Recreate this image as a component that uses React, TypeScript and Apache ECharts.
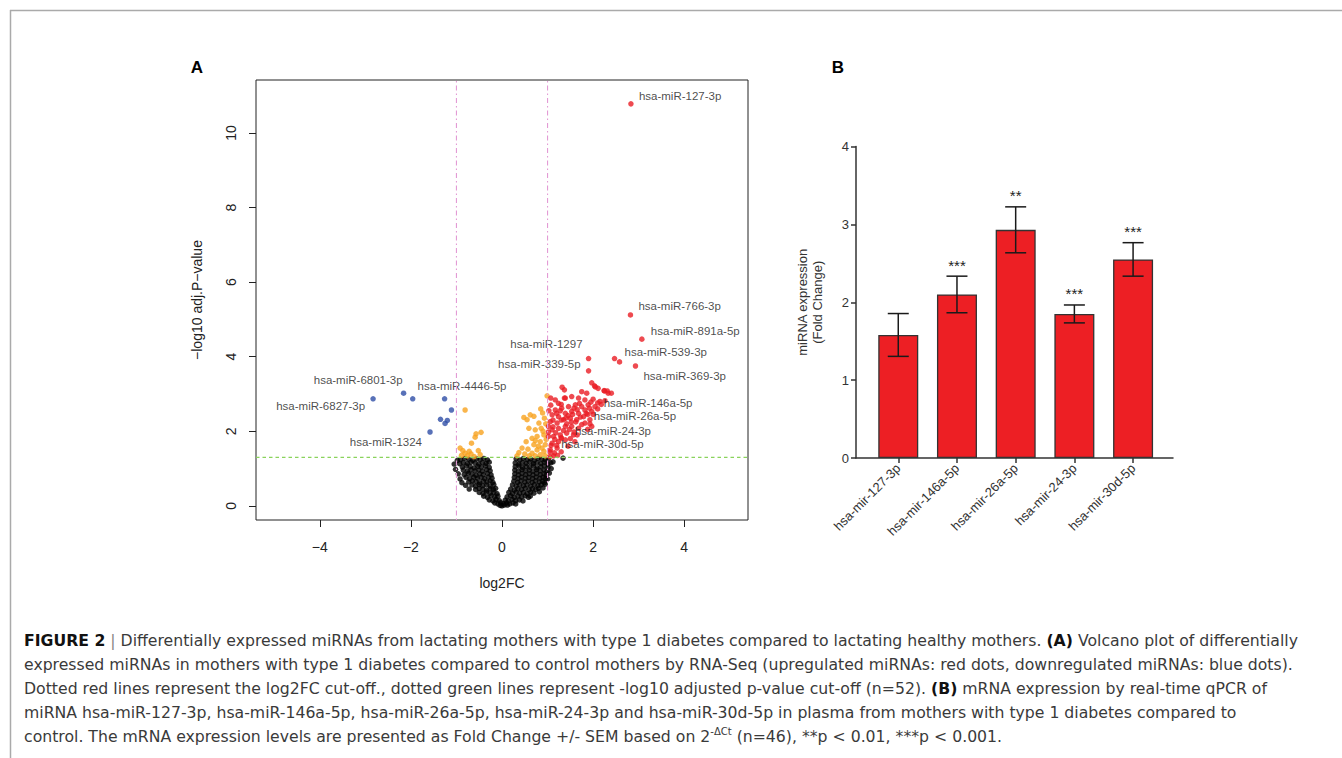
import React, { useEffect, useRef } from "react";
import * as echarts from "echarts";

// ---------------- Panel A: volcano plot data ----------------
const volcanoXTicks = [-4, -2, 0, 2, 4];
const volcanoYTicks = [0, 2, 4, 6, 8, 10];
const volcanoXRange = [-5.4, 5.4];
const volcanoYRange = [-0.38, 11.42];
const log2fcCutoffs = [-1, 1];
const pvalCutoff = 1.3;

const blackPoints: [number, number][] = [
  [-0.91, 1.24], [-0.82, 1.27], [-0.73, 1.25], [-0.64, 1.22], [-0.56, 1.26], [-0.48, 1.24], [-0.40, 1.27], [-0.32, 1.23],
  [0.31, 1.26], [0.39, 1.23], [0.47, 1.27], [0.55, 1.24], [0.63, 1.26], [0.71, 1.22], [0.79, 1.27], [0.87, 1.25], [0.95, 1.23], [1.02, 1.26],
  [-0.93, 1.13], [-0.85, 1.16], [-0.76, 1.14], [-0.68, 1.17], [-0.59, 1.15], [-0.51, 1.12], [-0.43, 1.16], [-0.35, 1.14], [-0.28, 1.17],
  [0.29, 1.15], [0.37, 1.12], [0.45, 1.16], [0.53, 1.14], [0.61, 1.17], [0.69, 1.13], [0.77, 1.16], [0.85, 1.14], [0.93, 1.17], [1.01, 1.12], [1.07, 1.15],
  [-0.87, 1.04], [-0.78, 1.07], [-0.70, 1.05], [-0.61, 1.02], [-0.53, 1.06], [-0.45, 1.04], [-0.36, 1.07], [-0.28, 1.03],
  [0.29, 1.05], [0.37, 1.07], [0.45, 1.03], [0.53, 1.06], [0.61, 1.04], [0.69, 1.07], [0.77, 1.02], [0.85, 1.05], [0.93, 1.07], [1.01, 1.03],
  [-0.85, 0.96], [-0.76, 0.93], [-0.68, 0.97], [-0.59, 0.94], [-0.51, 0.96], [-0.43, 0.93], [-0.34, 0.97], [-0.26, 0.94],
  [0.28, 0.96], [0.36, 0.93], [0.44, 0.97], [0.52, 0.94], [0.60, 0.96], [0.68, 0.93], [0.76, 0.97], [0.84, 0.94], [0.92, 0.96], [0.99, 0.93],
  [-0.83, 0.84], [-0.74, 0.87], [-0.66, 0.85], [-0.57, 0.82], [-0.49, 0.86], [-0.41, 0.84], [-0.32, 0.87], [-0.24, 0.83],
  [0.28, 0.86], [0.36, 0.83], [0.44, 0.87], [0.52, 0.84], [0.60, 0.86], [0.68, 0.83], [0.76, 0.87], [0.84, 0.84], [0.92, 0.86], [0.97, 0.83],
  [-0.79, 0.76], [-0.71, 0.73], [-0.62, 0.77], [-0.54, 0.74], [-0.46, 0.76], [-0.38, 0.73], [-0.30, 0.77], [-0.22, 0.74],
  [0.27, 0.76], [0.35, 0.73], [0.43, 0.77], [0.51, 0.74], [0.59, 0.76], [0.67, 0.73], [0.75, 0.77], [0.83, 0.74], [0.90, 0.76], [0.96, 0.73],
  [-0.73, 0.64], [-0.65, 0.67], [-0.57, 0.65], [-0.49, 0.62], [-0.41, 0.66], [-0.33, 0.64], [-0.26, 0.67], [-0.20, 0.63],
  [0.26, 0.66], [0.34, 0.63], [0.42, 0.67], [0.50, 0.64], [0.58, 0.66], [0.66, 0.63], [0.74, 0.67], [0.82, 0.64], [0.89, 0.66], [0.93, 0.62],
  [-0.66, 0.56], [-0.58, 0.53], [-0.50, 0.57], [-0.42, 0.54], [-0.34, 0.56], [-0.26, 0.53], [-0.18, 0.57],
  [0.23, 0.56], [0.31, 0.53], [0.39, 0.57], [0.47, 0.54], [0.55, 0.56], [0.63, 0.53], [0.71, 0.57], [0.79, 0.54], [0.86, 0.56],
  [-0.58, 0.44], [-0.50, 0.47], [-0.42, 0.45], [-0.34, 0.42], [-0.26, 0.46], [-0.19, 0.44], [-0.14, 0.47],
  [0.19, 0.45], [0.27, 0.42], [0.35, 0.46], [0.43, 0.44], [0.51, 0.47], [0.59, 0.43], [0.67, 0.46], [0.74, 0.44], [0.80, 0.47],
  [-0.50, 0.36], [-0.42, 0.33], [-0.34, 0.37], [-0.26, 0.34], [-0.18, 0.36], [-0.11, 0.33],
  [0.15, 0.36], [0.23, 0.33], [0.31, 0.37], [0.39, 0.34], [0.47, 0.36], [0.55, 0.33], [0.63, 0.37], [0.70, 0.34],
  [-0.40, 0.26], [-0.32, 0.23], [-0.24, 0.27], [-0.16, 0.24], [-0.09, 0.26],
  [0.11, 0.24], [0.19, 0.27], [0.27, 0.23], [0.35, 0.26], [0.43, 0.24], [0.51, 0.27], [0.58, 0.23], [0.62, 0.26],
  [-0.28, 0.16], [-0.20, 0.13], [-0.13, 0.17], [-0.06, 0.14], [0.07, 0.15], [0.14, 0.13], [0.22, 0.17], [0.30, 0.14], [0.38, 0.16], [0.46, 0.13],
  [-0.16, 0.08], [-0.09, 0.05], [-0.03, 0.08], [0.03, 0.06], [0.10, 0.08], [0.17, 0.05], [0.24, 0.08], [0.30, 0.05],
  [-0.04, 0.01], [0.0, 0.0], [0.05, 0.02], [0.12, 0.02],
  [-1.05, 1.12], [-1.02, 0.98], [-0.98, 1.22], [-0.96, 0.86], [-0.92, 0.72], [-0.88, 0.62], [-0.80, 0.55], [-0.72, 0.45],
  [1.08, 1.0], [1.12, 1.18], [1.04, 0.88], [1.0, 0.72], [0.95, 0.58], [0.9, 0.48], [0.82, 0.38], [1.34, 1.28],
];

const orangePoints: [number, number][] = [
  [-0.81, 2.57], [-0.57, 1.93], [-0.46, 1.97], [-0.59, 1.84], [-0.67, 1.68], [-0.92, 1.55], [-0.86, 1.48], [-0.81, 1.41],
  [-0.72, 1.46], [-0.89, 1.35], [-0.76, 1.34], [-0.52, 1.48], [-0.48, 1.37], [-0.61, 1.32], [-0.68, 1.39],
  [0.99, 2.95], [0.55, 2.31], [0.62, 2.44], [0.70, 2.40], [0.89, 2.49], [0.81, 2.22], [0.59, 2.08], [0.73, 2.04],
  [0.86, 2.08], [0.92, 1.90], [0.77, 1.86], [0.66, 1.81], [0.53, 1.72], [0.84, 1.72], [0.70, 1.64], [0.95, 1.64],
  [0.44, 1.55], [0.57, 1.52], [0.77, 1.50], [0.92, 1.46], [0.37, 1.43], [0.50, 1.39], [0.66, 1.41], [0.84, 1.37],
  [0.33, 1.34], [0.73, 1.34], [0.95, 1.34], [0.60, 1.34], [0.88, 1.55], [0.73, 1.75], [0.48, 2.37], [0.85, 2.60],
  [0.96, 2.20], [0.93, 2.35], [0.97, 1.78], [0.90, 2.00], [0.80, 1.60],
];

const redPoints: [number, number][] = [
  [2.58, 3.86],
  [2.03, 3.22], [2.11, 3.15], [2.24, 3.09], [2.33, 3.02], [2.40, 3.02], [1.75, 3.06], [1.86, 3.02], [1.37, 3.11],
  [1.17, 2.84], [1.24, 2.75], [1.39, 2.89], [1.53, 2.93], [1.68, 2.89], [1.82, 2.84], [2.00, 2.86], [2.15, 2.80],
  [2.26, 2.82], [1.46, 2.66], [1.61, 2.71], [1.75, 2.66], [1.89, 2.71], [2.04, 2.66], [1.17, 2.57], [1.31, 2.62],
  [1.10, 2.44], [1.24, 2.39], [1.39, 2.48], [1.53, 2.53], [1.68, 2.48], [1.82, 2.57], [1.97, 2.53], [1.06, 2.26],
  [1.21, 2.22], [1.35, 2.31], [1.50, 2.35], [1.64, 2.31], [1.79, 2.39], [1.93, 2.31], [1.10, 2.04], [1.24, 2.08],
  [1.39, 2.13], [1.53, 2.13], [1.13, 1.86], [1.28, 1.90], [1.42, 1.95], [1.57, 1.90], [1.10, 1.68], [1.24, 1.72],
  [1.39, 1.77], [1.06, 1.50], [1.21, 1.55], [1.13, 1.34], [1.02, 1.86], [1.02, 2.13], [1.97, 2.13], [1.68, 2.08],
  [1.82, 2.22], [1.97, 3.30], [2.05, 3.19], [2.25, 3.08], [2.31, 3.08], [1.32, 3.18], [1.07, 2.89], [1.37, 2.89],
  [1.05, 1.45], [1.15, 1.42], [1.08, 1.62], [1.20, 1.62], [1.30, 1.45], [1.45, 1.60], [1.50, 1.80], [1.60, 1.72],
  [1.30, 1.82], [1.18, 1.96], [1.48, 2.05], [1.62, 2.25], [1.72, 2.38], [1.30, 2.30], [1.45, 2.42], [1.20, 2.48],
  [1.58, 2.62], [1.92, 2.62], [2.00, 2.45], [1.75, 2.18], [1.42, 2.20], [1.12, 2.30], [1.03, 2.55], [1.07, 2.70],
  [1.30, 2.72], [1.22, 1.35], [1.05, 1.32], [1.35, 2.02], [1.55, 2.45], [1.65, 2.58], [1.85, 2.48], [1.70, 2.75],
  [1.95, 2.78], [2.10, 2.60], [1.58, 1.98], [1.12, 2.12], [1.28, 2.55], [1.40, 2.35], [1.88, 2.05], [1.65, 1.90],
  [1.52, 2.25], [2.18, 2.72], [1.02, 1.98], [1.16, 1.78],
];

const bluePoints: [number, number][] = [
  [-1.96, 2.87], [-1.11, 2.57], [-1.35, 2.32], [-1.20, 2.29], [-1.25, 2.21],
];

const labeledMiRNAs = [
  "hsa-miR-127-3p", "hsa-miR-766-3p", "hsa-miR-891a-5p", "hsa-miR-539-3p", "hsa-miR-369-3p",
  "hsa-miR-1297", "hsa-miR-339-5p", "hsa-miR-146a-5p", "hsa-miR-26a-5p", "hsa-miR-24-3p", "hsa-miR-30d-5p",
  "hsa-miR-6801-3p", "hsa-miR-6827-3p", "hsa-miR-4446-5p", "hsa-miR-1324",
];
const labeledLog2FC = [2.83, 2.82, 3.07, 2.47, 2.93, 1.90, 1.90, 2.10, 1.88, 1.93, 1.30, -2.16, -2.83, -1.26, -1.58];
const labeledLogP = [10.78, 5.12, 4.47, 3.95, 3.75, 3.95, 3.62, 2.76, 2.45, 2.20, 1.82, 3.02, 2.87, 2.87, 1.98];

// ---------------- Panel B: qPCR bar chart data ----------------
const barCategories = ["hsa-mir-127-3p", "hsa-mir-146a-5p", "hsa-mir-26a-5p", "hsa-mir-24-3p", "hsa-mir-30d-5p"];
const barMeans = [1.58, 2.10, 2.93, 1.85, 2.55];
const barSEM = [0.275, 0.235, 0.295, 0.115, 0.215];
const barSignificance = ["", "***", "**", "***", "***"];
const barXTicks = [0, 1, 2, 3, 4];

// ---------------- Caption ----------------
const captionLines = [
  "{fig|FIGURE 2} {bar|\u007c} Differentially expressed miRNAs from lactating mothers with type 1 diabetes compared to lactating healthy mothers. {b|(A)} Volcano plot of differentially",
  "expressed miRNAs in mothers with type 1 diabetes compared to control mothers by RNA-Seq (upregulated miRNAs: red dots, downregulated miRNAs: blue dots).",
  "Dotted red lines represent the log2FC cut-off., dotted green lines represent -log10 adjusted p-value cut-off (n=52). {b|(B)} mRNA expression by real-time qPCR of",
  "miRNA hsa-miR-127-3p, hsa-miR-146a-5p, hsa-miR-26a-5p, hsa-miR-24-3p and hsa-miR-30d-5p in plasma from mothers with type 1 diabetes compared to",
  "control. The mRNA expression levels are presented as Fold Change +/- SEM based on 2{sup|-\u0394Ct} (n=46), **p < 0.01, ***p < 0.001.",
];

// label placement (style only): align, dx, dy relative to the point centre
const labelPlacement: { align: string; dx: number; dy: number }[] = [
  { align: "left", dx: 8, dy: -8 },
  { align: "left", dx: 8, dy: -9 },
  { align: "left", dx: 9, dy: -8 },
  { align: "left", dx: 10, dy: -7 },
  { align: "left", dx: 8, dy: 10 },
  { align: "right", dx: -6, dy: -15 },
  { align: "right", dx: -8, dy: -7 },
  { align: "left", dx: 6, dy: 0 },
  { align: "left", dx: 6, dy: 2 },
  { align: "left", dx: -15, dy: 7 },
  { align: "left", dx: 0, dy: 6 },
  { align: "right", dx: -1, dy: -13 },
  { align: "right", dx: -8, dy: 7 },
  { align: "left", dx: -27, dy: -13 },
  { align: "right", dx: -8, dy: 10 },
];

const FONT = "'Liberation Sans', Arial, Helvetica, sans-serif";
const CAPTION_FONT = "'DejaVu Sans', 'Liberation Sans', sans-serif";
const RED = "#EA1D24";
const BLUE = "#2E4DA6";
const ORANGE = "#F8A21F";
const BAR_RED = "#ED1F24";
const CUTOFF_PINK = "#E39BD5";
const CUTOFF_GREEN = "#8AD35C";

export default function App() {
  const ref = useRef<HTMLDivElement>(null);

  useEffect(() => {
    if (!ref.current) return;
    const chart = echarts.init(ref.current, undefined, { renderer: "svg" });

    const minus = (v: number) => (v < 0 ? "\u2212" + Math.abs(v) : String(v));

    const scatterBase = {
      type: "scatter",
      xAxisIndex: 0,
      yAxisIndex: 0,
      symbol: "circle",
      symbolSize: 5.5,
      silent: true,
    };

    const cutoffLine = (data: number[][], color: string, dash: number[], width: number, name: string) => ({
      type: "line",
      name,
      xAxisIndex: 0,
      yAxisIndex: 0,
      data,
      showSymbol: false,
      symbol: "none",
      silent: true,
      z: 8,
      lineStyle: { color, width, type: dash },
      itemStyle: { color },
      emphasis: { disabled: true },
    });

    const capSize = 15.7;

    const option: any = {
      animation: false,
      backgroundColor: "#ffffff",
      textStyle: { fontFamily: FONT },
      grid: [
        { left: 256, top: 80, width: 492, height: 440, show: true, borderColor: "#222", borderWidth: 1, backgroundColor: "transparent", containLabel: false },
        { left: 856, top: 146.5, width: 317, height: 311.5, show: false, containLabel: false },
      ],
      xAxis: [
        {
          type: "value",
          gridIndex: 0,
          min: volcanoXRange[0],
          max: volcanoXRange[1],
          position: "bottom",
          axisLine: { show: false, onZero: false },
          axisTick: { show: true, length: 7, lineStyle: { color: "#222", width: 1 }, customValues: volcanoXTicks },
          axisLabel: { customValues: volcanoXTicks, formatter: minus, fontSize: 14, color: "#222", margin: 20, fontFamily: FONT },
          splitLine: { show: false },
          name: "log2FC",
          nameLocation: "middle",
          nameGap: 56,
          nameTextStyle: { fontSize: 14, color: "#222", fontFamily: FONT },
        },
        {
          type: "value",
          gridIndex: 1,
          min: -0.72,
          max: 4.68,
          position: "bottom",
          axisLine: { show: true, onZero: false, lineStyle: { color: "#333", width: 1.5 } },
          axisTick: { show: true, length: 5, lineStyle: { color: "#333", width: 1.5 }, customValues: barXTicks },
          axisLabel: {
            customValues: barXTicks,
            formatter: (v: number) => barCategories[Math.round(v)] ?? "",
            rotate: 45,
            fontSize: 13,
            color: "#333",
            margin: 8,
            fontFamily: FONT,
          },
          splitLine: { show: false },
        },
      ],
      yAxis: [
        {
          type: "value",
          gridIndex: 0,
          min: volcanoYRange[0],
          max: volcanoYRange[1],
          position: "left",
          axisLine: { show: false, onZero: false },
          axisTick: { show: true, length: 7, lineStyle: { color: "#222", width: 1 }, customValues: volcanoYTicks },
          axisLabel: { customValues: volcanoYTicks, rotate: 90, fontSize: 14, color: "#222", margin: 18, fontFamily: FONT },
          splitLine: { show: false },
          name: "\u2212log10 adj.P\u2212value",
          nameLocation: "middle",
          nameGap: 52,
          nameTextStyle: { fontSize: 14, color: "#222", fontFamily: FONT },
        },
        {
          type: "value",
          gridIndex: 1,
          min: 0,
          max: 4,
          interval: 1,
          position: "left",
          axisLine: { show: true, onZero: false, lineStyle: { color: "#333", width: 1.5 } },
          axisTick: { show: true, length: 5, lineStyle: { color: "#333", width: 1.5 } },
          axisLabel: { fontSize: 13, color: "#333", margin: 7, fontFamily: FONT },
          splitLine: { show: false },
          name: "miRNA expression\n(Fold Change)",
          nameLocation: "middle",
          nameGap: 31,
          nameTextStyle: { fontSize: 13, color: "#333", lineHeight: 15, fontFamily: FONT },
        },
      ],
      series: [
        { ...scatterBase, name: "ns", data: blackPoints, itemStyle: { color: "#000" }, z: 2 },
        { ...scatterBase, name: "p only", data: orangePoints, itemStyle: { color: ORANGE }, z: 3 },
        { ...scatterBase, name: "up", data: redPoints, itemStyle: { color: RED }, z: 4 },
        { ...scatterBase, name: "down", data: bluePoints, itemStyle: { color: BLUE }, z: 4 },
        {
          ...scatterBase,
          name: "labeled",
          z: 6,
          data: labeledMiRNAs.map((n, i) => ({
            name: n,
            value: [labeledLog2FC[i], labeledLogP[i]],
            itemStyle: { color: labeledLog2FC[i] > 0 ? RED : BLUE },
            label: {
              show: true,
              position: "inside",
              formatter: n,
              align: labelPlacement[i].align,
              verticalAlign: "middle",
              offset: [labelPlacement[i].dx, labelPlacement[i].dy],
              fontSize: 11.5,
              color: "#1a1a1a",
              fontFamily: FONT,
            },
          })),
        },
        ...log2fcCutoffs.map((c, i) =>
          cutoffLine([[c, volcanoYRange[0]], [c, volcanoYRange[1]]], CUTOFF_PINK, [1.5, 3, 5, 3], 1.1, "fc cutoff " + i)
        ),
        cutoffLine([[volcanoXRange[0], pvalCutoff], [volcanoXRange[1], pvalCutoff]], CUTOFF_GREEN, [3.5, 3], 1.3, "p cutoff"),
        {
          type: "bar",
          name: "qPCR",
          xAxisIndex: 1,
          yAxisIndex: 1,
          data: barMeans.map((v, i) => [i, v]),
          barWidth: 40,
          silent: true,
          itemStyle: { color: BAR_RED, borderColor: "#333", borderWidth: 1.3 },
          z: 2,
        },
        {
          type: "custom",
          name: "sem",
          xAxisIndex: 1,
          yAxisIndex: 1,
          silent: true,
          z: 5,
          data: barMeans.map((m, i) => [i, m - barSEM[i], m + barSEM[i]]),
          encode: { x: 0, y: [1, 2] },
          renderItem: (params: any, api: any) => {
            const x = api.value(0);
            const lo = api.coord([x, api.value(1)]);
            const hi = api.coord([x, api.value(2)]);
            const half = 10.5;
            const ls = { stroke: "#1a1a1a", lineWidth: 1.5 };
            const star = barSignificance[params.dataIndex];
            return {
              type: "group",
              children: [
                { type: "line", shape: { x1: lo[0], y1: lo[1], x2: hi[0], y2: hi[1] }, style: ls },
                { type: "line", shape: { x1: lo[0] - half, y1: lo[1], x2: lo[0] + half, y2: lo[1] }, style: ls },
                { type: "line", shape: { x1: hi[0] - half, y1: hi[1], x2: hi[0] + half, y2: hi[1] }, style: ls },
                {
                  type: "text",
                  style: {
                    text: star,
                    x: hi[0],
                    y: hi[1] - 11,
                    align: "center",
                    verticalAlign: "middle",
                    fontSize: 15,
                    fontFamily: FONT,
                    fill: "#222",
                  },
                },
              ],
            };
          },
        },
      ],
      graphic: [
        { type: "line", silent: true, shape: { x1: 10, y1: 10.5, x2: 1342, y2: 10.5 }, style: { stroke: "#aaaaaa", lineWidth: 1.5 } },
        { type: "line", silent: true, shape: { x1: 10.5, y1: 10, x2: 10.5, y2: 758 }, style: { stroke: "#aaaaaa", lineWidth: 1.5 } },
        { type: "text", silent: true, x: 197, y: 67, style: { text: "A", fontSize: 17, fontWeight: "bold", fontFamily: FONT, fill: "#000", align: "center", verticalAlign: "middle" } },
        { type: "text", silent: true, x: 838, y: 67, style: { text: "B", fontSize: 17, fontWeight: "bold", fontFamily: FONT, fill: "#000", align: "center", verticalAlign: "middle" } },
        ...captionLines.map((line, i) => ({
          type: "text",
          silent: true,
          x: 24,
          y: 640 + i * 24,
          style: {
            text: line,
            fontSize: capSize,
            fontFamily: CAPTION_FONT,
            fill: "#3a3a3a",
            align: "left",
            verticalAlign: "middle",
            lineHeight: 20,
            rich: {
              fig: { fontSize: capSize, fontWeight: "bold", fill: "#111", fontFamily: CAPTION_FONT, lineHeight: 20 },
              b: { fontSize: capSize, fontWeight: "bold", fill: "#111", fontFamily: CAPTION_FONT, lineHeight: 20 },
              bar: { fontSize: capSize, fill: "#888", fontFamily: CAPTION_FONT, lineHeight: 20 },
              sup: { fontSize: 10, fill: "#3a3a3a", fontFamily: CAPTION_FONT, verticalAlign: "top", lineHeight: 20 },
            },
          },
        })),
      ],
    };

    chart.setOption(option);
    return () => chart.dispose();
  }, []);

  return (
    <div
      ref={ref}
      style={{ position: "absolute", left: 0, top: 0, width: 1342, height: 758, background: "#fff" }}
    />
  );
}
